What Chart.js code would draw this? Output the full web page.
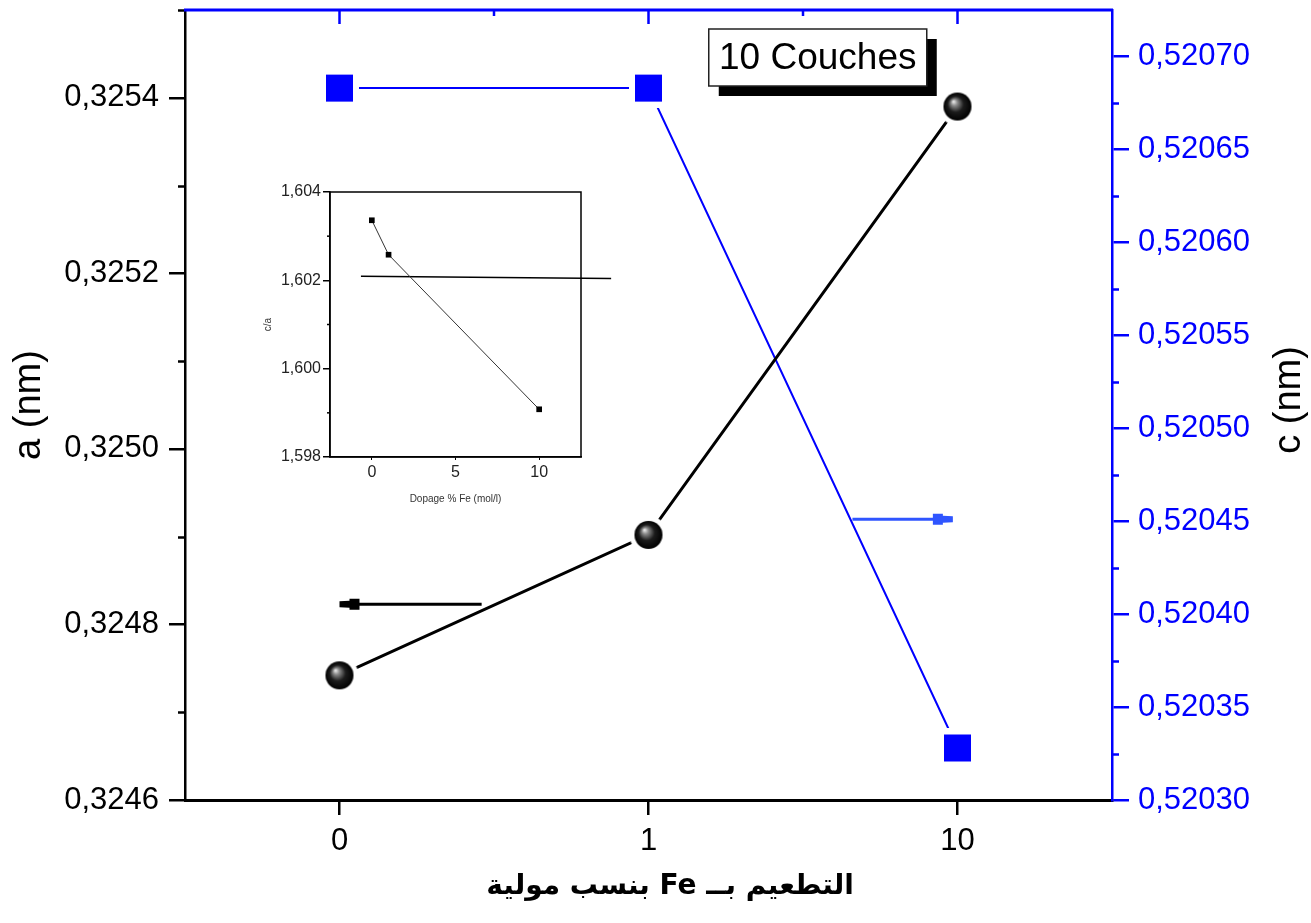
<!DOCTYPE html>
<html>
<head>
<meta charset="utf-8">
<script src="https://cdn.jsdelivr.net/npm/chart.js@4.4.1/dist/chart.umd.min.js"></script>
<style>
  body { margin: 0; background: #fff; }
  #wrap { position: relative; width: 1311px; height: 923px; }
  #inset { position: absolute; left: 230px; top: 180px; }
</style>
</head>
<body>
<div id="wrap">
  <canvas id="grafico" width="1311" height="923"></canvas>
  <canvas id="inset" width="400" height="340"></canvas>
</div>
<script>
// dopage Fe (% molaire) : catégories placées aux positions 0, 1, 2
var dopage_labels = ["0", "1", "10"];
var dopage_pos = [0, 1, 2];
var param_a = [0.324742, 0.324902, 0.325390];   // a (nm)
var param_c = [0.520683, 0.520683, 0.520328];   // c (nm)

var a_ticks = [0.3246, 0.3248, 0.3250, 0.3252, 0.3254];
var a_minor = [0.3247, 0.3249, 0.3251, 0.3253, 0.3255];
var c_ticks = [0.52030, 0.52035, 0.52040, 0.52045, 0.52050, 0.52055, 0.52060, 0.52065, 0.52070];
var c_minor = [0.520325, 0.520375, 0.520425, 0.520475, 0.520525, 0.520575, 0.520625, 0.520675];
var top_minor = [0.5, 1.5];

// encart c/a
var inset_dopage = [0, 1, 10];
var inset_ca = [1.60336, 1.60258, 1.59908];
var inset_ref_x = [-0.65, 14.3];
var inset_ref_y = [1.60209, 1.60204];
var inset_y_ticks = [1.598, 1.600, 1.602, 1.604];
var inset_y_minor = [1.599, 1.601, 1.603];
var inset_x_ticks = [0, 5, 10];

// flèches (axe a à gauche, axe c à droite)
var fleche_a_x = [0.46, 0];
var fleche_a_y = 0.324823;
var fleche_c_x = [1.66, 1.985];
var fleche_c_y = 0.520451;

Chart.defaults.font.family = "'Liberation Sans', Arial, sans-serif";

function virgule(v, n) {
  return v.toFixed(n).replace(".", ",");
}

// marqueur sphère avec un petit blanc autour (les lignes ne touchent pas les points)
function sphere(r, gap) {
  var c = document.createElement("canvas");
  var s = 2 * (r + gap);
  c.width = s; c.height = s;
  var g = c.getContext("2d");
  var m = s / 2;
  g.fillStyle = "#fff";
  g.beginPath(); g.arc(m, m, r + gap, 0, 2 * Math.PI); g.fill();
  var grad = g.createRadialGradient(m - 4, m - 5, 0.5, m, m, r);
  grad.addColorStop(0, "#e6e6e6");
  grad.addColorStop(0.2, "#8a8a8a");
  grad.addColorStop(0.55, "#1c1c1c");
  grad.addColorStop(1, "#000");
  g.fillStyle = grad;
  g.beginPath(); g.arc(m, m, r, 0, 2 * Math.PI); g.fill();
  return c;
}

function carre(side, gap, color) {
  var c = document.createElement("canvas");
  var s = side + 2 * gap;
  c.width = s; c.height = s;
  var g = c.getContext("2d");
  g.fillStyle = "#fff";
  g.fillRect(0, 0, s, s);
  g.fillStyle = color;
  g.fillRect(gap, gap, side, side);
  return c;
}

function fleche(ctx, x1, x2, y, color) {
  var dir = x2 > x1 ? 1 : -1;
  ctx.save();
  ctx.strokeStyle = color;
  ctx.fillStyle = color;
  ctx.lineWidth = 3;
  ctx.beginPath();
  ctx.moveTo(x1, y);
  ctx.lineTo(x2 - dir * 18, y);
  ctx.stroke();
  ctx.beginPath();
  ctx.moveTo(x2 - dir * 20, y - 5.5);
  ctx.lineTo(x2 - dir * 10, y - 5.5);
  ctx.lineTo(x2 - dir * 10, y - 3.5);
  ctx.lineTo(x2, y - 3);
  ctx.lineTo(x2, y + 3);
  ctx.lineTo(x2 - dir * 10, y + 3.5);
  ctx.lineTo(x2 - dir * 10, y + 5.5);
  ctx.lineTo(x2 - dir * 20, y + 5.5);
  ctx.closePath();
  ctx.fill();
  ctx.restore();
}

// pas de marge supplémentaire pour les étiquettes en haut/bas des axes verticaux
function largeurFixe(w) {
  return function (s) {
    s.width = w;
    s.paddingTop = 0;
    s.paddingBottom = 0;
  };
}

var decor_principal = {
  id: "decor_principal",
  afterDraw: function (chart) {
    var ctx = chart.ctx;
    var area = chart.chartArea;
    var sx = chart.scales.x, sy = chart.scales.y, sy2 = chart.scales.y2;

    ctx.save();
    // petites graduations gauche
    ctx.strokeStyle = "#000";
    ctx.lineWidth = 2.5;
    a_minor.forEach(function (v) {
      var p = Math.round(sy.getPixelForValue(v)) + 0.5;
      ctx.beginPath(); ctx.moveTo(area.left, p); ctx.lineTo(area.left - 7, p); ctx.stroke();
    });
    // petites graduations droite
    ctx.strokeStyle = "#0000ff";
    c_minor.forEach(function (v) {
      var p = Math.round(sy2.getPixelForValue(v)) + 0.5;
      ctx.beginPath(); ctx.moveTo(area.right, p); ctx.lineTo(area.right + 7, p); ctx.stroke();
    });
    // cadre du haut en bleu avec graduations vers l'intérieur
    ctx.lineWidth = 3;
    ctx.beginPath(); ctx.moveTo(area.left - 1, area.top); ctx.lineTo(area.right + 1, area.top); ctx.stroke();
    ctx.lineWidth = 2.5;
    dopage_pos.forEach(function (v) {
      var p = sx.getPixelForValue(v);
      ctx.beginPath(); ctx.moveTo(p, area.top); ctx.lineTo(p, area.top + 14); ctx.stroke();
    });
    top_minor.forEach(function (v) {
      var p = sx.getPixelForValue(v);
      ctx.beginPath(); ctx.moveTo(p, area.top); ctx.lineTo(p, area.top + 6); ctx.stroke();
    });
    ctx.restore();

    // flèches
    fleche(ctx, sx.getPixelForValue(fleche_a_x[0]), sx.getPixelForValue(fleche_a_x[1]),
      sy.getPixelForValue(fleche_a_y), "#000");
    fleche(ctx, sx.getPixelForValue(fleche_c_x[0]), sx.getPixelForValue(fleche_c_x[1]),
      sy2.getPixelForValue(fleche_c_y), "#2f55ff");

    // étiquette "10 Couches" avec ombre
    var bx = area.left + (area.right - area.left) * 0.565;
    var by = area.top + 19;
    var bw = 218, bh = 57;
    ctx.save();
    ctx.fillStyle = "#000";
    ctx.fillRect(bx + 10, by + 10, bw, bh);
    ctx.fillStyle = "#fff";
    ctx.fillRect(bx, by, bw, bh);
    ctx.strokeStyle = "#222";
    ctx.lineWidth = 1.5;
    ctx.strokeRect(bx, by, bw, bh);
    ctx.fillStyle = "#000";
    ctx.font = "37px 'Liberation Sans', Arial, sans-serif";
    ctx.textAlign = "center";
    ctx.textBaseline = "middle";
    ctx.fillText("10 Couches", bx + bw / 2, by + bh / 2 + 1);
    ctx.restore();

    // titres des axes
    var cy = (area.top + area.bottom) / 2;
    ctx.save();
    ctx.font = "38px 'Liberation Sans', Arial, sans-serif";
    ctx.textAlign = "center";
    ctx.textBaseline = "middle";
    ctx.fillStyle = "#000";
    ctx.translate(30, cy);
    ctx.rotate(-Math.PI / 2);
    ctx.fillText("a (nm)", 0, 0);
    ctx.restore();

    ctx.save();
    ctx.font = "38px 'Liberation Sans', Arial, sans-serif";
    ctx.textAlign = "center";
    ctx.textBaseline = "middle";
    ctx.fillStyle = "#000";
    ctx.translate(chart.width - 21, cy - 5);
    ctx.rotate(-Math.PI / 2);
    ctx.fillText("c (nm)", 0, 0);
    ctx.restore();

    ctx.save();
    ctx.font = "bold 28px 'DejaVu Sans', sans-serif";
    ctx.direction = "rtl";
    ctx.textAlign = "center";
    ctx.textBaseline = "middle";
    ctx.fillStyle = "#000";
    ctx.fillText("التطعيم بــ Fe بنسب مولية", 670, 887);
    ctx.restore();
  }
};

new Chart(document.getElementById("grafico"), {
  type: "line",
  data: {
    datasets: [{
      label: "a",
      data: dopage_pos.map(function (x, i) { return { x: x, y: param_a[i] }; }),
      xAxisID: "x",
      yAxisID: "y",
      borderColor: "#000",
      borderWidth: 3,
      pointStyle: sphere(14, 5),
      pointRadius: 14
    }, {
      label: "c",
      data: dopage_pos.map(function (x, i) { return { x: x, y: param_c[i] }; }),
      xAxisID: "x",
      yAxisID: "y2",
      borderColor: "#0000ff",
      borderWidth: 2,
      pointStyle: carre(27, 6, "#0000ff"),
      pointRadius: 14
    }]
  },
  options: {
    responsive: false,
    animation: false,
    devicePixelRatio: 1,
    layout: { autoPadding: false, padding: { top: 10 } },
    plugins: {
      legend: { display: false },
      tooltip: { enabled: false }
    },
    scales: {
      x: {
        type: "linear",
        position: "bottom",
        min: -0.5,
        max: 2.5,
        afterFit: function (s) { s.height = 123; s.paddingLeft = 0; s.paddingRight = 0; },
        afterBuildTicks: function (s) { s.ticks = dopage_pos.map(function (v) { return { value: v }; }); },
        grid: { drawOnChartArea: false, color: "#000", lineWidth: 2.5, tickLength: 15 },
        border: { color: "#000", width: 3 },
        ticks: {
          color: "#000",
          font: { size: 31 },
          padding: 8,
          callback: function (v) { return dopage_labels[dopage_pos.indexOf(v)]; }
        }
      },
      y: {
        type: "linear",
        position: "left",
        min: 0.3246,
        max: 0.3255,
        afterFit: largeurFixe(185),
        afterBuildTicks: function (s) { s.ticks = a_ticks.map(function (v) { return { value: v }; }); },
        grid: { drawOnChartArea: false, color: "#000", lineWidth: 2.5, tickLength: 16 },
        border: { color: "#000", width: 2.5 },
        ticks: {
          color: "#000",
          font: { size: 31 },
          padding: 10,
          callback: function (v) { return virgule(v, 4); }
        }
      },
      y2: {
        type: "linear",
        position: "right",
        min: 0.52030,
        max: 0.520725,
        afterFit: largeurFixe(199),
        afterBuildTicks: function (s) { s.ticks = c_ticks.map(function (v) { return { value: v }; }); },
        grid: { drawOnChartArea: false, color: "#0000ff", lineWidth: 2.5, tickLength: 17 },
        border: { color: "#0000ff", width: 2.5 },
        ticks: {
          color: "#0000ff",
          font: { size: 31 },
          padding: 9,
          callback: function (v) { return virgule(v, 5); }
        }
      }
    }
  },
  plugins: [decor_principal]
});

// ---- encart c/a ----
var cadre_encart = {
  id: "cadre_encart",
  afterDraw: function (chart) {
    var ctx = chart.ctx;
    var area = chart.chartArea;
    var sy = chart.scales.y;
    ctx.save();
    ctx.strokeStyle = "#000";
    ctx.lineWidth = 1.5;
    ctx.strokeRect(area.left, area.top, area.right - area.left, area.bottom - area.top);
    inset_y_minor.forEach(function (v) {
      var p = sy.getPixelForValue(v);
      ctx.beginPath(); ctx.moveTo(area.left, p); ctx.lineTo(area.left - 3, p); ctx.stroke();
    });
    ctx.restore();
  }
};

new Chart(document.getElementById("inset"), {
  type: "line",
  data: {
    datasets: [{
      label: "c/a",
      data: inset_dopage.map(function (x, i) { return { x: x, y: inset_ca[i] }; }),
      borderColor: "#333",
      borderWidth: 1,
      pointStyle: "rect",
      pointRadius: 4,
      pointBackgroundColor: "#000",
      pointBorderWidth: 0
    }, {
      label: "ref",
      data: inset_ref_x.map(function (x, i) { return { x: x, y: inset_ref_y[i] }; }),
      borderColor: "#000",
      borderWidth: 1.5,
      pointRadius: 0,
      clip: false
    }]
  },
  options: {
    responsive: false,
    animation: false,
    devicePixelRatio: 1,
    layout: { padding: { top: 12, right: 49 } },
    plugins: {
      legend: { display: false },
      tooltip: { enabled: false }
    },
    scales: {
      x: {
        type: "linear",
        min: -2.5,
        max: 12.5,
        afterFit: function (s) { s.height = 63; },
        afterBuildTicks: function (s) { s.ticks = inset_x_ticks.map(function (v) { return { value: v }; }); },
        grid: { drawOnChartArea: false, color: "#000", lineWidth: 1, tickLength: 3 },
        border: { color: "#000", width: 1.5 },
        ticks: { color: "#222", font: { size: 16 }, padding: 3 },
        title: {
          display: true,
          text: "Dopage % Fe (mol/l)",
          color: "#333",
          font: { size: 10 },
          padding: { top: 0, bottom: 15 }
        }
      },
      y: {
        type: "linear",
        min: 1.598,
        max: 1.604,
        afterFit: function (s) { s.width = 100; },
        afterBuildTicks: function (s) { s.ticks = inset_y_ticks.map(function (v) { return { value: v }; }); },
        grid: { drawOnChartArea: false, color: "#000", lineWidth: 1.5, tickLength: 7 },
        border: { color: "#000", width: 1.5 },
        ticks: {
          color: "#222",
          font: { size: 16 },
          padding: 2,
          callback: function (v) { return virgule(v, 3); }
        },
        title: {
          display: true,
          text: "c/a",
          color: "#333",
          font: { size: 10 },
          padding: { top: 32, bottom: 0 }
        }
      }
    }
  },
  plugins: [cadre_encart]
});
</script>
</body>
</html>
